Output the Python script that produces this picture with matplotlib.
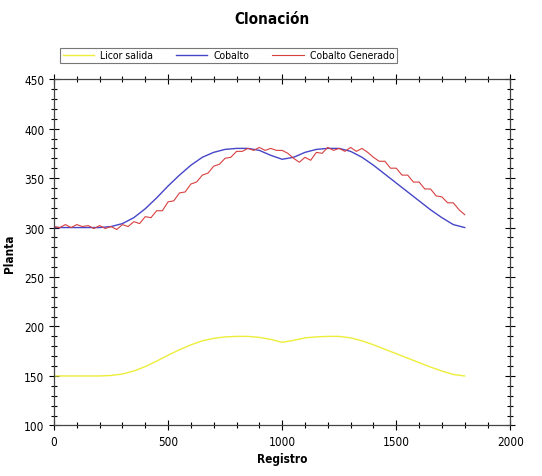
import matplotlib.pyplot as plt
from matplotlib.ticker import MultipleLocator

plt.rcParams['font.family'] = ['DejaVu Sans']
plt.rcParams['font.stretch'] = 'condensed'

# Registro (x) for the smooth series, every 50
x_smooth = list(range(0, 1801, 50))
cobalto = [300, 300, 300, 300, 300, 301, 304, 310, 319, 330, 342, 353, 363, 371,
           376, 379, 380, 380, 378, 373, 369, 371, 376, 379, 380, 380, 377, 371,
           363, 354, 345, 336, 327, 318, 310, 303, 300]
licor_salida = [150, 150, 150, 150, 150, 150.5, 152, 155, 159.5, 165, 171, 176.5,
                181.5, 185.5, 188, 189.5, 190, 190, 189, 187, 184, 186, 188.5,
                189.5, 190, 190, 188.5, 185.5, 181.5, 177, 172.5, 168, 163.5,
                159, 155, 151.5, 150]

# Registro (x) for the noisy generated series, every 25
x_gen = list(range(0, 1801, 25))
cobalto_generado = [301, 300, 303, 300, 303, 301, 302, 299, 302, 299, 301, 298,
                    303, 301, 306, 304, 311, 310, 317, 317, 326, 327, 335, 336,
                    344, 346, 353, 355, 362, 364, 370, 371, 377, 377, 380, 378,
                    381, 378, 380, 378, 378, 375, 370, 366, 371, 368, 376, 375,
                    381, 378, 380, 377, 381, 377, 380, 376, 371, 367, 367, 360,
                    360, 353, 353, 346, 346, 339, 339, 332, 331, 325, 325, 318,
                    313]

fig = plt.figure(figsize=(5.42, 4.77), dpi=100)
ax = fig.add_axes([0.0996, 0.106, 0.842, 0.726])

l1, = ax.plot(x_smooth, licor_salida, color='#eded3a', lw=1.0)
l2, = ax.plot(x_smooth, cobalto, color='#4646c8', lw=1.0)
l3, = ax.plot(x_gen, cobalto_generado, color='#d84040', lw=0.8)

ax.set_xlim(0, 2000)
ax.set_ylim(100, 450)
ax.xaxis.set_major_locator(MultipleLocator(500))
ax.xaxis.set_minor_locator(MultipleLocator(100))
ax.yaxis.set_major_locator(MultipleLocator(50))
ax.yaxis.set_minor_locator(MultipleLocator(10))
ax.tick_params(which='both', direction='inout', top=True, right=True,
               labelsize=8.5, width=0.8)
ax.tick_params(which='major', length=7)
ax.tick_params(which='minor', length=4)
for s in ax.spines.values():
    s.set_linewidth(0.9)
    s.set_color('#444444')

ax.set_xlabel('Registro', fontsize=8.5, fontweight='bold', labelpad=3)
ax.set_ylabel('Planta', fontsize=8.5, fontweight='bold', labelpad=6)
fig.text(0.502, 0.96, 'Clonación', ha='center', va='center',
         fontsize=11, fontweight='bold')

leg = fig.legend([l1, l2, l3], ['Licor salida', 'Cobalto', 'Cobalto Generado'],
                 loc='lower left', bbox_to_anchor=(0.101, 0.855), ncol=3,
                 fontsize=7.5, frameon=True, fancybox=False, handlelength=3,
                 columnspacing=2.2, borderpad=0.25, handletextpad=0.6)
leg.get_frame().set_edgecolor('#555555')
leg.get_frame().set_linewidth(0.8)

fig.savefig('out.png', dpi=100)
